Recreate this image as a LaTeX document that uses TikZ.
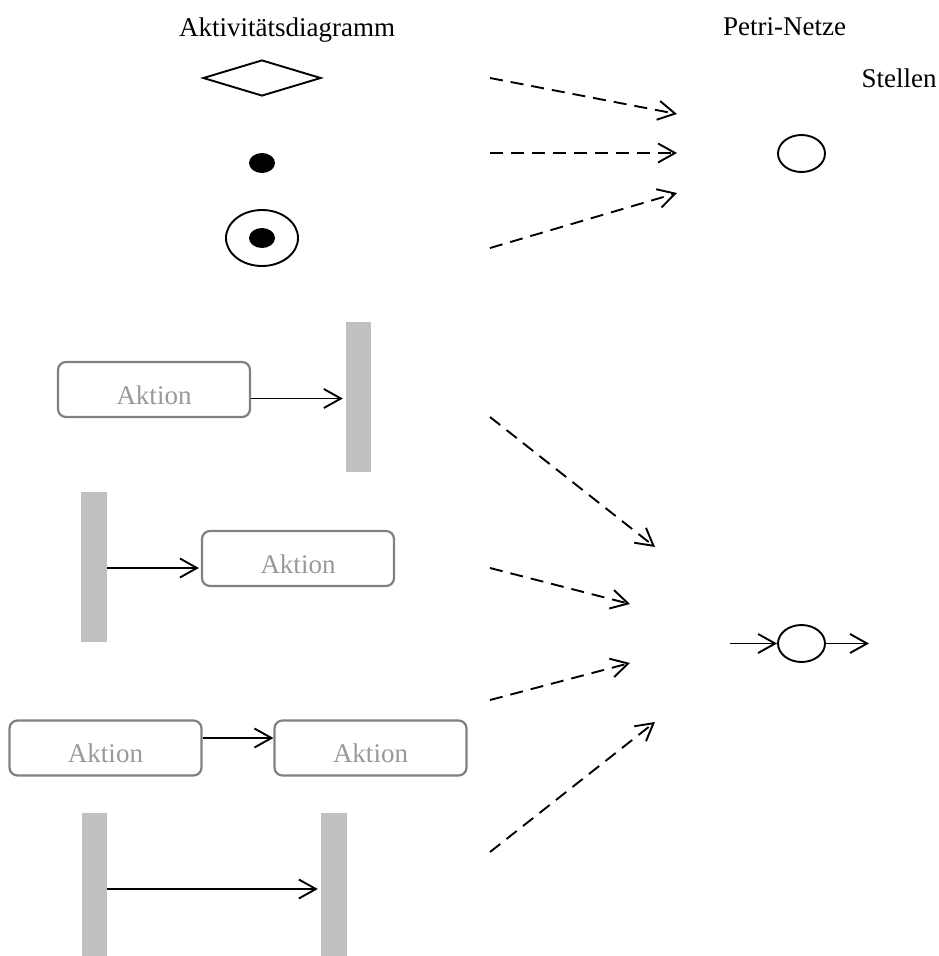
\documentclass[tikz,border=0pt]{standalone}
\usepackage{fontspec}
\setmainfont{Liberation Serif}
\usetikzlibrary{arrows.meta,shapes.geometric}
\definecolor{barfill}{HTML}{C0C0C0}
\definecolor{boxline}{HTML}{808080}
\definecolor{boxtext}{HTML}{999999}
\begin{document}
\begin{tikzpicture}[x=1pt,y=-1pt,
  lbl/.style={font=\fontsize{27}{32}\selectfont, anchor=base, inner sep=0pt},
  aktion/.style={draw=boxline, line width=2.2pt, rounded corners=8pt, minimum width=192pt, minimum height=55pt, inner sep=0pt},
  aktiontext/.style={lbl, text=boxtext},
  bar/.style={fill=barfill, draw=none, inner sep=0pt, minimum width=25pt},
  solidarrow/.style={line width=1.9pt, -{Straight Barb[length=17pt,width=19pt]}},
  dasharrow/.style={line width=1.9pt, dash pattern=on 13pt off 8pt, -{Straight Barb[length=17pt,width=19pt]}},
  place/.style={ellipse, draw, line width=1.9pt, minimum width=47pt, minimum height=37pt, inner sep=0pt},
  tokendot/.style={ellipse, fill=black, minimum width=26pt, minimum height=20pt, inner sep=0pt}
]
\useasboundingbox (0,0) rectangle (938,956);

% titles
\node[lbl] (t1) at (287,36) {Aktivitätsdiagramm};
\node[lbl] (t2) at (784.5,35) {Petri-Netze};
\node[lbl] (t3) at (899,87) {Stellen};

% left top symbols
\node[diamond, draw, line width=1.9pt, minimum width=118pt, minimum height=36pt, inner sep=0pt] (dia) at (262,78) {};
\node[tokendot] (dot) at (262,163) {};
\node[ellipse, draw, line width=1.9pt, minimum width=72pt, minimum height=56pt, inner sep=0pt] (endring) at (262,238) {};
\node[tokendot] (enddot) at (262,238) {};

% places
\node[place] (p1) at (801.5,153.5) {};
\node[place] (p2) at (801.5,643.5) {};
\coordinate (p2in) at (730,643.5);
\coordinate (p2out) at (869,643.5);
\draw[solidarrow] (p2in) -- (p2.west);
\draw[solidarrow] (p2.east) -- (p2out);

% dashed arrows top
\coordinate (d1s) at (490,78);  \coordinate (d1e) at (677,114);
\coordinate (d2s) at (490,153); \coordinate (d2e) at (677,153);
\coordinate (d3s) at (490,248); \coordinate (d3e) at (677,193);
\draw[dasharrow] (d1s) -- (d1e);
\draw[dasharrow] (d2s) -- (d2e);
\draw[dasharrow] (d3s) -- (d3e);

% dashed arrows bottom
\coordinate (d4s) at (490,417); \coordinate (d4e) at (655,547);
\coordinate (d5s) at (490,568); \coordinate (d5e) at (630,604);
\coordinate (d6s) at (490,700); \coordinate (d6e) at (630,663);
\coordinate (d7s) at (490,852); \coordinate (d7e) at (655,722);
\draw[dasharrow] (d4s) -- (d4e);
\draw[dasharrow] (d5s) -- (d5e);
\draw[dasharrow] (d6s) -- (d6e);
\draw[dasharrow] (d7s) -- (d7e);

% activity boxes
\node[aktion] (a1) at (154,389.5) {};
\node[aktiontext] (a1t) at ([yshift=-14.5pt]a1.center) {Aktion};
\node[aktion] (a2) at (298,558.5) {};
\node[aktiontext] (a2t) at ([yshift=-14.5pt]a2.center) {Aktion};
\node[aktion] (a3) at (105.5,748) {};
\node[aktiontext] (a3t) at ([yshift=-14.5pt]a3.center) {Aktion};
\node[aktion] (a4) at (370.5,748) {};
\node[aktiontext] (a4t) at ([yshift=-14.5pt]a4.center) {Aktion};

% bars
\node[bar, minimum height=150pt] (b1) at (358.5,397) {};
\node[bar, minimum width=26pt, minimum height=150pt] (b2) at (94,567) {};
\node[bar, minimum height=143pt] (b3) at (94.5,884.5) {};
\node[bar, minimum width=26pt, minimum height=143pt] (b4) at (334,884.5) {};

% solid arrows
\coordinate (s1) at ([yshift=-9pt]a1.east);
\draw[solidarrow, shorten >=3pt] (s1) -- (s1 -| b1.west);
\coordinate (s2) at (b2.east |- 0,568);
\draw[solidarrow, shorten >=2pt] (s2) -- (s2 -| a2.west);
\coordinate (s3) at ([yshift=10pt]a3.east);
\draw[solidarrow] (s3) -- (s3 -| a4.west);
\coordinate (s4) at (b3.east |- 0,889);
\draw[solidarrow, shorten >=3pt] (s4) -- (s4 -| b4.west);
\end{tikzpicture}
\end{document}
